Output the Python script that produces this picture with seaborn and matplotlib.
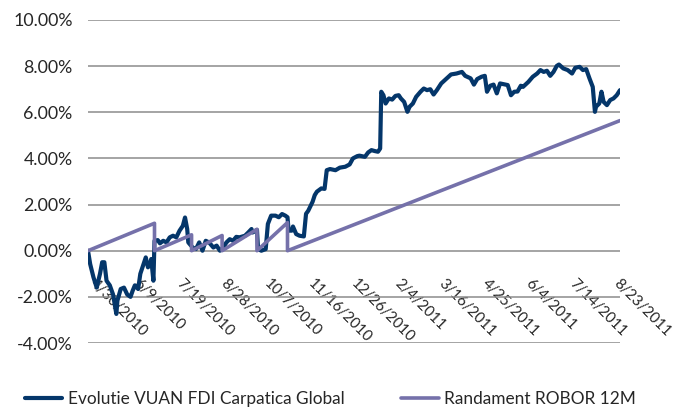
import pandas as pd
import matplotlib.pyplot as plt
import matplotlib.transforms as mtransforms
import seaborn as sns

# Fund series: days since 4/30/2010 and cumulative return (%)
fund_days = [0, 2, 5, 8, 11, 13, 15, 17, 20, 23, 26, 27, 30, 33, 36, 39, 41, 43, 46, 48,
             51, 53, 55, 57, 58, 60, 61, 64, 66, 69, 72, 75, 78, 81, 84, 87, 89, 91, 92, 96,
             99, 102, 105, 108, 111, 115, 118, 121, 124, 127, 130, 133, 136, 139, 144, 147, 150, 151, 155, 156,
             159, 163, 165, 168, 172, 175, 178, 181, 183, 184, 187, 188, 191, 194, 198, 200, 202, 206, 208, 210,
             214, 217, 219, 222, 227, 231, 236, 240, 243, 247, 249, 254, 257, 260, 263, 266, 268, 269, 271, 273,
             276, 279, 282, 285, 287, 290, 293, 295, 298, 301, 305, 308, 311, 314, 317, 320, 324, 329, 333, 338,
             343, 346, 351, 354, 357, 361, 364, 366, 369, 372, 375, 378, 381, 385, 388, 391, 394, 397, 399, 404,
             408, 412, 415, 418, 421, 424, 427, 430, 432, 436, 440, 444, 447, 451, 454, 457, 460, 463, 465, 466,
             469, 471, 473, 476, 479, 482, 485, 488]
fund_values = [0.0, -0.58, -1.15, -1.6, -1.0, -0.5, -0.5, -1.3, -1.5, -1.9, -2.74, -2.16, -1.66, -1.6, -1.9, -2.0, -1.73, -1.5, -1.66, -1.0,
               -0.58, -0.29, -0.72, -0.58, -0.36, -1.3, 0.43, 0.46, 0.32, 0.43, 0.36, 0.58, 0.65, 0.58, 0.87, 1.08, 1.44, 0.94, 0.36, 0.14,
               0.07, 0.36, 0.0, 0.43, 0.36, 0.14, 0.22, 0.0, 0.14, 0.36, 0.5, 0.43, 0.6, 0.58, 0.65, 0.79, 0.94, 0.79, 0.9, 0.07,
               0.0, 0.07, 1.16, 1.52, 1.52, 1.45, 1.59, 1.52, 1.45, 0.87, 0.87, 1.05, 0.72, 0.65, 0.62, 1.6, 1.73, 2.12, 2.41, 2.56,
               2.7, 2.68, 3.49, 3.54, 3.49, 3.6, 3.64, 3.74, 4.0, 4.1, 4.12, 4.07, 4.26, 4.36, 4.32, 4.29, 4.43, 6.89, 6.74, 6.38,
               6.6, 6.55, 6.71, 6.74, 6.6, 6.45, 6.02, 6.24, 6.38, 6.67, 6.89, 7.03, 6.96, 7.0, 6.77, 6.96, 7.25, 7.47, 7.64, 7.68,
               7.75, 7.58, 7.47, 7.2, 7.44, 7.54, 7.58, 6.89, 7.15, 7.2, 6.82, 7.25, 7.22, 7.18, 6.74, 6.89, 6.9, 7.15, 7.1, 7.32,
               7.54, 7.68, 7.83, 7.75, 7.8, 7.58, 7.75, 8.01, 8.07, 7.9, 7.83, 7.68, 7.93, 7.97, 7.83, 7.87, 7.47, 7.1, 6.02, 6.24,
               6.38, 6.89, 6.45, 6.31, 6.53, 6.6, 6.74, 6.96]

# ROBOR 12M benchmark (sawtooth resets)
robor_days = [0, 61, 61, 95, 95, 123, 123, 155, 155, 183, 183, 488]
robor_values = [0.0, 1.19, 0.0, 0.69, 0.0, 0.66, 0.0, 0.93, 0.0, 1.22, 0.0, 5.64]

tick_labels = ['4/30/2010', '6/9/2010', '7/19/2010', '8/28/2010', '10/7/2010', '11/16/2010',
               '12/26/2010', '2/4/2011', '3/16/2011', '4/25/2011', '6/4/2011', '7/14/2011', '8/23/2011']
y_ticks = [-4, -2, 0, 2, 4, 6, 8, 10]

fund_label = 'Evolutie VUAN FDI Carpatica Global'
robor_label = 'Randament ROBOR 12M'

start = pd.Timestamp('2010-04-30')
fund = pd.DataFrame({'date': start + pd.to_timedelta(fund_days, unit='D'), 'value': fund_values})
robor = pd.DataFrame({'date': start + pd.to_timedelta(robor_days, unit='D'), 'value': robor_values})

sns.set_style('white')
plt.rcParams['font.family'] = ['Lato', 'DejaVu Sans']
plt.rcParams['font.size'] = 12

fig = plt.figure(figsize=(6.81, 4.08), dpi=100)
ax = fig.add_axes([88 / 681, 1 - 343 / 408, 532 / 681, 323 / 408])

sns.lineplot(data=fund, x='date', y='value', ax=ax, color='#04366A', lw=3.0,
             estimator=None, sort=False, label=fund_label)
sns.lineplot(data=robor, x='date', y='value', ax=ax, color='#7571AA', lw=2.6,
             estimator=None, sort=False, label=robor_label)

# x axis sits on the 0% line (set before the labels, it resets the ticks)
ax.spines['bottom'].set_position(('data', 0))
for s in ax.spines.values():
    s.set_visible(False)

ax.set_yticks(y_ticks)
ax.set_yticklabels([f'{v:.2f}%' for v in y_ticks], fontsize=12.8)
ax.set_ylim(-4, 10)
ax.grid(axis='y', color='#8C8C8C', lw=1.1)
ax.grid(axis='x', visible=False)
ax.set_axisbelow(True)

ax.set_xlim(start, start + pd.Timedelta(days=488))
tick_pos = pd.to_datetime(tick_labels, format='%m/%d/%Y')
ax.set_xticks(tick_pos)
ax.set_xticklabels(tick_labels, fontsize=10.8)
ax.tick_params(axis='x', length=0, pad=0)
ax.tick_params(axis='y', length=0, pad=11)
offset = mtransforms.ScaledTranslation(9 / 100, -26 / 100, fig.dpi_scale_trans)
for lbl in ax.get_xticklabels():
    lbl.set_rotation(-45)
    lbl.set_rotation_mode('anchor')
    lbl.set_ha('left')
    lbl.set_va('top')
    lbl.set_transform(lbl.get_transform() + offset)

ax.set_xlabel('')
ax.set_ylabel('')
ax.legend(loc='center', bbox_to_anchor=(0.485, 0.022), bbox_transform=fig.transFigure,
          ncol=2, frameon=False, handlelength=2.2, columnspacing=3.3, handletextpad=0.3,
          fontsize=12.4)

fig.savefig('out.png', dpi=100)
